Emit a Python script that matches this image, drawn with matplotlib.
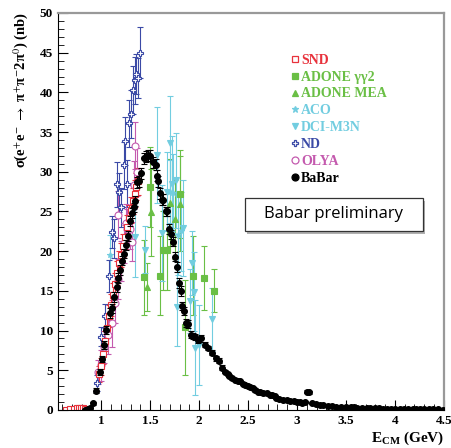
import matplotlib
matplotlib.use("Agg")
import matplotlib.pyplot as plt
from matplotlib.patches import Rectangle
from matplotlib.ticker import MultipleLocator, FuncFormatter
from matplotlib.lines import Line2D

plt.rcParams['font.family'] = ['Liberation Serif', 'DejaVu Serif']
plt.rcParams['mathtext.fontset'] = 'custom'
plt.rcParams['mathtext.rm'] = 'Liberation Serif:bold'
plt.rcParams['mathtext.bf'] = 'Liberation Serif:bold'

# --- data (E in GeV, sigma in nb) ---
snd_x = [0.64, 0.68, 0.72, 0.75, 0.77, 0.79, 0.81, 0.83,
         0.98, 1.00, 1.02, 1.04, 1.06, 1.08, 1.10, 1.12, 1.14, 1.16, 1.18,
         1.20, 1.22, 1.24, 1.26, 1.28, 1.30, 1.32, 1.34, 1.36, 1.38]
snd_y = [0.05, 0.08, 0.12, 0.2, 0.3, 0.3, 0.2, 0.1,
         4.5, 5.5, 7.0, 8.7, 10.3, 11.8, 13.2, 14.5, 15.8, 17.2, 18.5,
         19.5, 20.7, 21.8, 23.0, 24.2, 25.2, 26.3, 27.2, 28.1, 28.8]
snd_e = [0.1, 0.1, 0.1, 0.1, 0.15, 0.15, 0.1, 0.1,
         1.0, 1.1, 1.2, 1.3, 1.3, 1.4, 1.4, 1.5, 1.5, 1.5, 1.5,
         1.5, 1.5, 1.5, 1.6, 1.6, 1.6, 1.6, 1.7, 1.7, 1.7]

ggx = [1.44, 1.50, 1.60, 1.63, 1.67, 1.80, 1.855, 1.94, 2.05, 2.15]
ggy = [16.7, 28.1, 16.9, 20.1, 20.1, 27.2, 10.4, 16.9, 16.6, 15.0]
gge = [4.7, 5.0, 5.0, 5.0, 5.0, 5.5, 6.0, 5.0, 4.0, 2.7]

mea_x = [1.463, 1.504, 1.70, 1.75, 1.80]
mea_y = [15.5, 24.9, 26.1, 24.0, 26.0]
mea_e = [3.0, 5.5, 5.5, 5.0, 6.0]

aco_x = [1.09, 1.70, 1.735, 1.78, 1.82]
aco_y = [19.5, 27.5, 27.3, 22.0, 22.5]
aco_e = [2.5, 4.0, 5.0, 5.0, 5.0]

dci_x = [1.35, 1.447, 1.565, 1.62, 1.67, 1.70, 1.72, 1.76, 1.77, 1.84,
         1.905, 1.93, 1.95, 1.96, 2.00, 2.13]
dci_y = [21.8, 20.2, 32.1, 22.3, 27.5, 33.6, 28.5, 28.9, 13.0, 22.9,
         13.7, 18.5, 14.9, 7.85, 8.2, 11.4]
dci_e = [5.0, 3.0, 6.0, 6.0, 5.0, 6.0, 6.0, 6.0, 5.0, 6.0,
         4.0, 4.0, 5.0, 6.0, 5.0, 4.0]

nd_x = [0.96, 1.00, 1.04, 1.08, 1.11, 1.13, 1.16, 1.18, 1.20, 1.23,
        1.24, 1.26, 1.28, 1.30, 1.32, 1.34, 1.36, 1.38, 1.40]
nd_y = [3.4, 9.2, 11.8, 16.9, 22.4, 21.6, 28.4, 27.4, 25.5, 30.8,
        33.9, 28.5, 36.1, 37.3, 40.3, 41.5, 42.3, 41.8, 45.0]
nd_e = [1.0, 1.2, 1.5, 2.0, 2.0, 2.5, 2.8, 2.5, 2.5, 3.0,
        3.0, 3.0, 3.0, 3.0, 3.0, 3.0, 2.5, 2.5, 3.2]

olya_x = [0.97, 1.00, 1.03, 1.07, 1.11, 1.14, 1.17, 1.17, 1.20, 1.23,
          1.25, 1.26, 1.29, 1.31, 1.33, 1.35, 1.37]
olya_y = [4.8, 5.6, 7.9, 9.5, 10.9, 13.5, 16.5, 24.6, 18.8, 21.0,
          23.5, 22.8, 22.8, 21.2, 28.3, 33.3, 30.0]
olya_e = [1.5, 2.0, 2.0, 2.5, 3.0, 2.5, 2.5, 3.0, 2.5, 2.5,
          2.5, 2.5, 2.5, 2.5, 3.0, 3.0, 3.0]

babar_x = [0.83, 0.86, 0.89, 0.92, 0.95, 0.99, 1.01, 1.03, 1.05, 1.09,
           1.11, 1.13, 1.16, 1.17, 1.19, 1.21, 1.23, 1.25, 1.27, 1.29,
           1.31, 1.33, 1.35, 1.37, 1.39, 1.41, 1.44, 1.46, 1.48, 1.50,
           1.53, 1.556, 1.566, 1.58, 1.60, 1.62, 1.633, 1.66, 1.668, 1.69,
           1.71, 1.73, 1.75, 1.77, 1.79, 1.81, 1.83, 1.85, 1.87, 1.89,
           1.92, 1.94, 1.96, 1.99, 2.02, 2.06, 2.09, 2.13, 2.17, 2.20,
           2.23, 2.26, 2.29, 2.31, 2.34, 2.37, 2.40, 2.42, 2.45, 2.47,
           2.50, 2.52, 2.55, 2.57, 2.60, 2.62, 2.65, 2.69, 2.72, 2.74,
           2.77, 2.79, 2.82, 2.86, 2.90, 2.93, 2.97, 3.00, 3.03, 3.05,
           3.08, 3.10, 3.12, 3.15, 3.19, 3.23, 3.27, 3.32, 3.36, 3.40,
           3.45, 3.50, 3.55, 3.58, 3.61, 3.66, 3.71, 3.75, 3.80, 3.84,
           3.88, 3.92, 3.96, 4.00, 4.05, 4.09, 4.13, 4.18, 4.22, 4.26,
           4.30, 4.35, 4.39, 4.44, 4.49]
babar_y = [0.05, 0.15, 0.3, 0.84, 2.4, 4.8, 6.4, 8.2, 10.1, 12.2,
           12.8, 14.2, 15.5, 16.6, 17.6, 18.8, 19.7, 20.8, 21.9, 23.8,
           24.8, 25.5, 26.3, 28.7, 28.8, 29.8, 31.7, 31.9, 32.1, 32.0,
           31.2, 30.9, 29.5, 28.8, 27.3, 26.5, 26.5, 25.0, 25.0, 22.8,
           22.1, 21.2, 19.3, 18.0, 16.0, 15.0, 13.1, 12.5, 11.0, 10.8,
           9.5, 9.3, 9.2, 8.8, 9.0, 8.2, 7.8, 7.2, 6.5, 6.2,
           5.3, 4.8, 4.5, 4.3, 4.0, 3.8, 3.6, 3.6, 3.3, 3.2,
           3.0, 2.9, 2.7, 2.5, 2.3, 2.2, 2.1, 2.1, 1.9, 1.9,
           1.7, 1.55, 1.4, 1.26, 1.2, 1.13, 1.1, 1.05, 0.95, 0.84,
           1.0, 2.3, 2.2, 0.84, 0.75, 0.63, 0.58, 0.5, 0.45, 0.42,
           0.4, 0.42, 0.35, 0.32, 0.3, 0.25, 0.2, 0.2, 0.18, 0.18,
           0.17, 0.16, 0.15, 0.14, 0.13, 0.12, 0.11, 0.1, 0.08, 0.08,
           0.08, 0.07, 0.08, 0.06, 0.05]
babar_e = [0.05, 0.05, 0.1, 0.2, 0.3, 0.4, 0.4, 0.5, 0.5, 0.6,
           0.6, 0.6, 0.6, 0.6, 0.6, 0.6, 0.6, 0.6, 0.6, 0.6,
           0.6, 0.6, 0.6, 0.7, 0.7, 0.7, 0.7, 0.7, 0.7, 0.7,
           0.7, 0.7, 0.7, 0.7, 0.7, 0.7, 0.7, 0.6, 0.6, 0.6,
           0.6, 0.6, 0.6, 0.6, 0.6, 0.6, 0.5, 0.5, 0.5, 0.5,
           0.4, 0.4, 0.4, 0.4, 0.4, 0.3, 0.3, 0.3, 0.3, 0.3,
           0.3, 0.2, 0.2, 0.2, 0.2, 0.2, 0.2, 0.2, 0.2, 0.2,
           0.2, 0.2, 0.2, 0.2, 0.2, 0.2, 0.2, 0.2, 0.1, 0.1,
           0.1, 0.1, 0.1, 0.1, 0.1, 0.1, 0.1, 0.1, 0.1, 0.1,
           0.1, 0.2, 0.2, 0.1, 0.1, 0.1, 0.1, 0.1, 0.1, 0.1,
           0.1, 0.1, 0.1, 0.1, 0.1, 0.1, 0.1, 0.1, 0.1, 0.1,
           0.1, 0.1, 0.1, 0.1, 0.1, 0.1, 0.1, 0.1, 0.1, 0.1,
           0.1, 0.1, 0.1, 0.1, 0.1]

RED = '#e8323c'
GREEN = '#6abf45'
CYAN = '#72cde0'
BLUE = '#3b4aa6'
MAGENTA = '#c45aae'

fig = plt.figure(figsize=(4.52, 4.48), dpi=100)
ax = fig.add_axes([0.128, 0.085, 0.854, 0.886])

def draw(x, y, e, marker, color, ms, filled=True, z=2):
    ax.errorbar(x, y, yerr=e, fmt=marker, color=color, ecolor=color,
                elinewidth=0.8, capsize=2.5, capthick=0.8, ms=ms,
                mfc=color if filled else 'white', mec=color, mew=0.8, zorder=z)

draw(ggx, ggy, gge, 's', GREEN, 4)
draw(mea_x, mea_y, mea_e, '^', GREEN, 4)
draw(aco_x, aco_y, aco_e, '*', CYAN, 4)
draw(dci_x, dci_y, dci_e, 'v', CYAN, 4)
draw(nd_x, nd_y, nd_e, 'P', BLUE, 5, filled=False)
draw(olya_x, olya_y, olya_e, 'o', MAGENTA, 5, filled=False)
draw(snd_x, snd_y, snd_e, 's', RED, 4, filled=False)
draw(babar_x, babar_y, babar_e, 'o', 'black', 4.2, z=3)

ax.set_xlim(0.557, 4.5)
ax.set_ylim(0, 50)
ax.xaxis.set_major_locator(MultipleLocator(0.5))
ax.xaxis.set_minor_locator(MultipleLocator(0.1))
ax.yaxis.set_major_locator(MultipleLocator(5))
ax.yaxis.set_minor_locator(MultipleLocator(1))
ax.tick_params(which='both', direction='in', top=False, right=False)
ax.tick_params(which='major', length=7, width=0.8)
ax.tick_params(which='minor', length=4, width=0.6)
ax.xaxis.set_major_formatter(FuncFormatter(lambda v, p: '%g' % v))
for lab in ax.get_xticklabels() + ax.get_yticklabels():
    lab.set_fontweight('bold')
    lab.set_fontsize(9.5)

ax.spines['top'].set_color('#999999')
ax.spines['right'].set_color('#999999')
ax.spines['top'].set_linewidth(1.6)
ax.spines['right'].set_linewidth(1.6)

fig.text(0.045, 0.80,
         r'σ(e$^{+}$e$^{-}$ $\rightarrow$ π$^{+}$π$^{-}$2π$^{0}$) (nb)',
         rotation=90, ha='center', va='center', fontsize=10.5, fontweight='bold',
         math_fontfamily='stix')
fig.text(0.982, 0.002, r'$\mathbf{E_{CM}}$ (GeV)', ha='right', va='bottom',
         fontsize=11, fontweight='bold')

labels = ['SND', 'ADONE γγ2', 'ADONE MEA', 'ACO', 'DCI-M3N', 'ND', 'OLYA', 'BaBar']
colors = [RED, GREEN, GREEN, CYAN, CYAN, BLUE, MAGENTA, 'black']
markers = ['s', 's', '^', '*', 'v', 'P', 'o', 'o']
fills = [False, True, True, True, True, False, False, True]
handles = [Line2D([], [], ls='none', marker=m, color=c, ms=5,
                  mfc=c if f else 'white', mec=c, mew=0.9)
           for m, c, f in zip(markers, colors, fills)]
leg = ax.legend(handles, labels, loc='upper left', bbox_to_anchor=(0.585, 0.915),
                frameon=False, handlelength=0.6, handletextpad=0.15,
                labelspacing=0.28, borderpad=0,
                prop={'family': 'Liberation Serif', 'weight': 'bold', 'size': 10})
for t, c in zip(leg.get_texts(), colors):
    t.set_color(c)

# "Babar preliminary" box with drop shadow
bx, by, bw, bh = 0.485, 0.452, 0.46, 0.083
ax.add_patch(Rectangle((bx + 0.006, by - 0.008), bw, bh, transform=ax.transAxes,
                       facecolor='#b0b0b0', edgecolor='none', zorder=5))
ax.add_patch(Rectangle((bx, by), bw, bh, transform=ax.transAxes,
                       facecolor='white', edgecolor='#333333', lw=0.9, zorder=6))
ax.text(bx + bw / 2, by + bh / 2, 'Babar preliminary', transform=ax.transAxes,
        ha='center', va='center', fontsize=12, family='Open Sans', zorder=7)

fig.savefig('out.png', dpi=100)
